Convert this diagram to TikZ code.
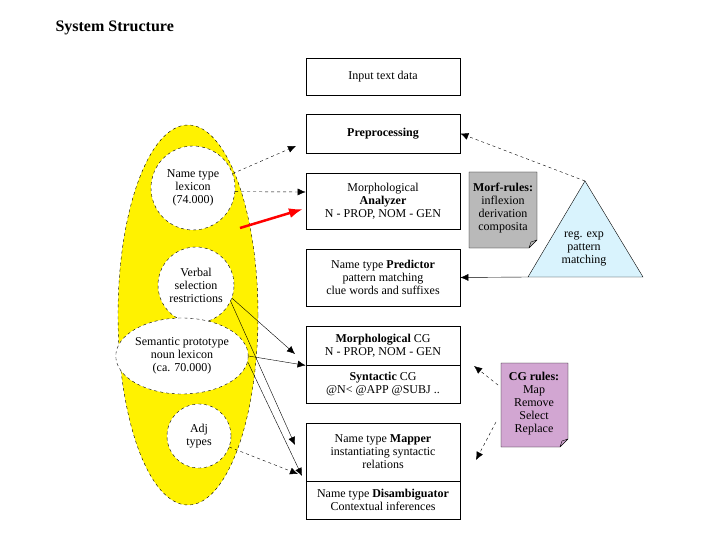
\documentclass[tikz,border=0pt]{standalone}
\usepackage{fontspec}
\setmainfont{Liberation Serif}
\usetikzlibrary{arrows.meta,shapes.geometric}
\begin{document}
\begin{tikzpicture}[x=1pt,y=-1pt,
 box/.style={draw,thick,minimum width=154pt,align=center,font=\fontsize{12}{13}\selectfont,inner sep=0pt},
 circ/.style={draw,dashed,fill=white,align=center,font=\fontsize{12}{13}\selectfont,inner sep=0pt},
 txt/.style={align=center,font=\fontsize{12}{13}\selectfont,inner sep=0pt},
 arr/.style={-{Latex[length=8pt,width=7pt]}},
 dsh/.style={arr,dashed}]
\useasboundingbox (0,0) rectangle (720,540);
\node[font=\bfseries\fontsize{16}{18}\selectfont,anchor=west] (title) at (52,28) {System Structure};
\fill[yellow] (188,315) ellipse [x radius=70, y radius=190];
\draw[dashed] (188,315) ellipse [x radius=70, y radius=190];
\node[circ,circle,minimum size=84pt] (lex) at (193,188) {Name type\\lexicon\\(74.000)};
\node[circ,circle,minimum size=76pt] (verb) at (196,285) {Verbal\\selection\\restrictions};
\node[circ,ellipse,minimum width=116pt,minimum height=76pt] (sem) at (182,356) {Semantic prototype\\noun lexicon\\(ca. 70.000)};
\node[circ,circle,minimum size=64pt] (adj) at (199,436) {Adj\\types};
\node[box,minimum height=37pt] (inp) at (383,76.5) {Input text data};
\node[box,minimum height=39pt] (pre) at (383,133.5) {\textbf{Preprocessing}};
\node[box,minimum height=56pt] (ana) at (383,201) {Morphological\\\textbf{Analyzer}\\N - PROP, NOM - GEN};
\node[box,minimum height=57pt] (pred) at (383,277.5) {Name type \textbf{Predictor}\\pattern matching\\clue words and suffixes};
\node[box,minimum height=39pt] (mcg) at (383,345.5) {\textbf{Morphological} CG\\N - PROP, NOM - GEN};
\node[box,minimum height=38pt] (scg) at (383,384) {\textbf{Syntactic} CG\\@N< @APP @SUBJ ..};
\node[box,minimum height=58pt] (map) at (383,452) {Name type \textbf{Mapper}\\instantiating syntactic\\relations};
\node[box,minimum height=38pt] (dis) at (383,500) {Name type \textbf{Disambiguator}\\Contextual inferences};
\fill[gray!55] (469,172) -- (537,172) -- (537,240) -- (529,248) -- (469,248) -- cycle;
\draw (469,172) -- (537,172) -- (537,240) -- (529,248) -- (469,248) -- cycle (537,240) -- (531,242) -- (529,248);
\node[txt] (morf) at (503,208) {\textbf{Morf-rules:}\\inflexion\\derivation\\composita};
\fill[violet!35] (501,363) -- (568,363) -- (568,439) -- (560,447) -- (501,447) -- cycle;
\draw (501,363) -- (568,363) -- (568,439) -- (560,447) -- (501,447) -- cycle (568,439) -- (562,441) -- (560,447);
\node[txt] (cgr) at (534,404) {\textbf{CG rules:}\\Map\\Remove\\Select\\Replace};
\draw[fill=cyan!15] (585,181) -- (643,277) -- (528,277) -- cycle;
\coordinate (apex) at (585,181);
\coordinate (tl) at (528,277);
\node[txt] (re) at (584,249) {reg. exp\\pattern\\matching};
\draw[dsh] (apex) -- (pre.east);
\draw[arr] (tl) -- (pred.east);
\coordinate (c1) at (498,385); \coordinate (c2) at (496,422);
\draw[dsh] (c1) -- (474,366);
\draw[dsh] (c2) -- (476,460);
\draw[dsh] (lex.20) -- (296,146);
\draw[dsh] (lex.-5) -- (ana.west |- 0,192);
\draw[-{Latex[length=14pt,width=10pt]},red,line width=2.5pt] (240,228) -- (303,209);
\draw[arr] (verb.-20) -- (295,354);
\draw[arr] (verb.-25) -- (295,445);
\draw[arr] (sem.east) -- (mcg.south west);
\draw[arr] (sem.-5) -- (302,476);
\draw[dsh] (adj.-20) -- (298,474);
\end{tikzpicture}
\end{document}
